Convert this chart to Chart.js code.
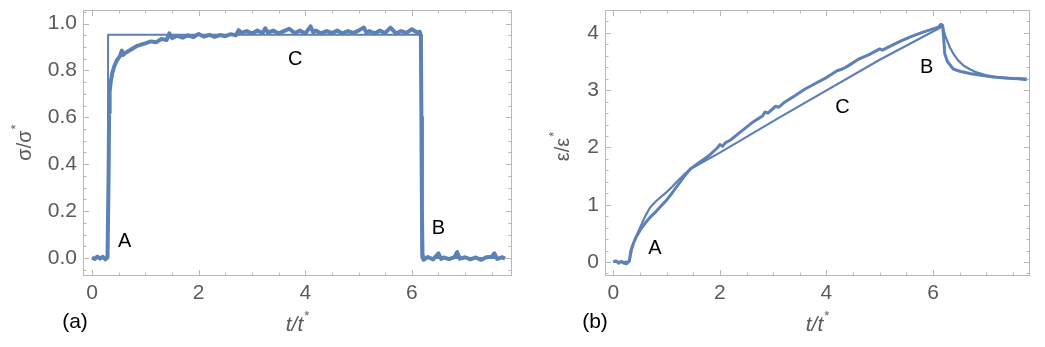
<!DOCTYPE html>
<html><head><meta charset="utf-8">
<script src="https://cdn.jsdelivr.net/npm/chart.js@4/dist/chart.umd.min.js"></script>
<style>
html,body{margin:0;padding:0;background:#fff;overflow:hidden}
#ca{position:absolute;left:0;top:0}
#cb{position:absolute;left:520px;top:0}
</style></head>
<body>
<canvas id="ca" width="520" height="347"></canvas>
<canvas id="cb" width="525" height="347"></canvas>
<script>
// ---- Panel (a): stress sigma/sigma* vs t/t* ----
const sigmaMeasT = [0,0.05,0.1,0.15,0.2,0.25,0.29,0.31,0.32,0.33,0.35,0.38,0.42,0.47,0.52,0.56,0.58,0.63,0.7,0.77,0.85,0.92,1.0,1.1,1.2,1.3,1.4,1.45,1.5,1.6,1.7,1.8,1.9,2.0,2.1,2.2,2.3,2.4,2.5,2.6,2.7,2.75,2.8,2.9,3.0,3.1,3.2,3.25,3.3,3.4,3.5,3.6,3.7,3.8,3.9,4.0,4.1,4.15,4.2,4.3,4.4,4.5,4.6,4.7,4.8,4.9,5.0,5.1,5.15,5.2,5.3,5.4,5.5,5.6,5.7,5.8,5.9,6.0,6.1,6.15,6.17,6.18,6.19,6.2,6.22,6.3,6.4,6.5,6.55,6.6,6.7,6.8,6.85,6.9,7.0,7.1,7.2,7.3,7.4,7.5,7.55,7.6,7.7,7.75];
const sigmaMeasY = [0.002,-0.004,0.006,-0.003,0.005,-0.006,0.003,0.35,0.62,0.71,0.75,0.79,0.82,0.845,0.86,0.885,0.866,0.876,0.885,0.895,0.905,0.91,0.916,0.924,0.92,0.934,0.93,0.958,0.938,0.948,0.94,0.95,0.942,0.956,0.944,0.952,0.943,0.951,0.946,0.955,0.95,0.972,0.96,0.968,0.958,0.97,0.96,0.98,0.962,0.97,0.958,0.968,0.978,0.96,0.97,0.958,0.988,0.962,0.97,0.958,0.968,0.96,0.97,0.958,0.968,0.96,0.97,0.983,0.96,0.968,0.958,0.97,0.96,0.983,0.958,0.968,0.96,0.976,0.962,0.965,0.95,0.6,0.2,0.02,-0.008,0.004,-0.006,0.02,-0.004,0.002,-0.005,0.004,0.025,-0.003,0.003,-0.006,0.002,-0.008,0.003,0.005,0.02,-0.004,0.003,-0.003];
const sigmaModelT = [0,0.3,0.3,6.18,6.18,7.75];
const sigmaModelY = [0,0,0.952,0.952,0,0];
const sigmaXTicks = [0,2,4,6];
const sigmaYTicks = [0.0,0.2,0.4,0.6,0.8,1.0];
const sigmaNotes = [{t:'A',x:0.61,y:0.07},{t:'B',x:6.5,y:0.127},{t:'C',x:3.81,y:0.848}];

// ---- Panel (b): strain epsilon/epsilon* vs t/t* ----
const epsMeasT = [0,0.05,0.1,0.15,0.2,0.25,0.3,0.33,0.37,0.42,0.47,0.52,0.6,0.69,0.8,0.9,1.0,1.1,1.2,1.31,1.44,1.6,1.8,1.95,2.0,2.05,2.1,2.2,2.4,2.6,2.8,2.85,2.9,3.0,3.05,3.1,3.2,3.4,3.6,3.8,4.0,4.2,4.3,4.4,4.6,4.7,4.8,5.0,5.05,5.2,5.4,5.6,5.8,6.0,6.1,6.15,6.18,6.2,6.22,6.27,6.38,6.5,6.69,6.9,7.13,7.4,7.6,7.76];
const epsMeasY = [0.0,0.02,-0.02,0.01,-0.02,-0.03,0.02,0.2,0.31,0.42,0.5,0.58,0.68,0.78,0.88,0.98,1.08,1.2,1.33,1.47,1.62,1.73,1.86,1.99,2.05,2.02,2.08,2.13,2.28,2.43,2.55,2.62,2.6,2.68,2.72,2.7,2.78,2.9,3.02,3.12,3.22,3.34,3.37,3.42,3.54,3.58,3.62,3.72,3.7,3.77,3.86,3.94,4.01,4.07,4.1,4.15,4.13,3.9,3.64,3.5,3.37,3.33,3.29,3.26,3.23,3.21,3.2,3.18];
const epsModelT = [0,0.3,0.35,0.4,0.5,0.6,0.69,0.8,0.9,1.0,1.1,1.2,1.32,1.44,2.0,3.13,5.0,6.15,6.18,6.2,6.23,6.27,6.32,6.38,6.47,6.57,6.7,6.82,7.0,7.2,7.5,7.76];
const epsModelY = [0,0,0.22,0.38,0.6,0.8,0.95,1.06,1.14,1.22,1.31,1.41,1.52,1.62,1.91,2.53,3.53,4.1,4.13,4.05,3.95,3.85,3.74,3.64,3.52,3.43,3.36,3.31,3.26,3.23,3.21,3.2];
const epsXTicks = [0,2,4,6];
const epsYTicks = [0,1,2,3,4];
const epsNotes = [{t:'A',x:0.78,y:0.24},{t:'B',x:5.88,y:3.40},{t:'C',x:4.30,y:2.69}];

const LINE = '#5E81B5', FRAME = '#B8B8B8', LABEL = '#5A5A5A';
const FONT = '"Liberation Sans", Arial, sans-serif';

function pts(t, y) { return t.map((v, i) => ({x: v, y: y[i]})); }

function drawSup(ctx, main, sup, cx, cy, italic, rot, size) {
  ctx.save();
  ctx.translate(cx, cy);
  if (rot) ctx.rotate(-Math.PI / 2);
  ctx.fillStyle = LABEL;
  ctx.textBaseline = 'middle';
  ctx.textAlign = 'left';
  const f1 = (italic ? 'italic ' : '') + size + 'px ' + FONT;
  const f2 = '13px ' + FONT;
  ctx.font = f1; const w1 = ctx.measureText(main).width;
  ctx.font = f2; const w2 = ctx.measureText(sup).width;
  const x0 = -(w1 + w2) / 2;
  ctx.font = f1; ctx.fillText(main, x0, 0);
  ctx.font = f2; ctx.fillText(sup, x0 + w1 + 1, -9);
  ctx.restore();
}

const framePlugin = {
  id: 'frame',
  afterDatasetsDraw(chart, args, o) {
    const ctx = chart.ctx, a = chart.chartArea;
    const xs = chart.scales.x, ys = chart.scales.y;
    ctx.save();
    ctx.strokeStyle = FRAME; ctx.lineWidth = 1;
    ctx.strokeRect(Math.round(a.left) + 0.5, Math.round(a.top) + 0.5,
                   Math.round(a.right - a.left) - 1, Math.round(a.bottom - a.top) - 1);
    ctx.beginPath();
    const xi0 = Math.ceil(xs.min / o.xStep - 1e-9), xi1 = Math.floor(xs.max / o.xStep + 1e-9);
    for (let i = xi0; i <= xi1; i++) {
      const v = i * o.xStep, r = v / o.xMajor;
      const len = Math.abs(r - Math.round(r)) < 1e-6 ? 6 : 3.5;
      const px = Math.round(xs.getPixelForValue(v)) + 0.5;
      ctx.moveTo(px, a.bottom); ctx.lineTo(px, a.bottom - len);
      ctx.moveTo(px, a.top); ctx.lineTo(px, a.top + len);
    }
    const yi0 = Math.ceil(ys.min / o.yStep - 1e-9), yi1 = Math.floor(ys.max / o.yStep + 1e-9);
    for (let i = yi0; i <= yi1; i++) {
      const v = i * o.yStep, r = v / o.yMajor;
      const len = Math.abs(r - Math.round(r)) < 1e-6 ? 6 : 3.5;
      const py = Math.round(ys.getPixelForValue(v)) + 0.5;
      ctx.moveTo(a.left, py); ctx.lineTo(a.left + len, py);
      ctx.moveTo(a.right, py); ctx.lineTo(a.right - len, py);
    }
    ctx.stroke();
    ctx.fillStyle = '#000';
    ctx.font = '20px ' + FONT;
    ctx.textAlign = 'center'; ctx.textBaseline = 'middle';
    o.notes.forEach(n => ctx.fillText(n.t, xs.getPixelForValue(n.x), ys.getPixelForValue(n.y)));
    ctx.font = '21px ' + FONT;
    ctx.fillText(o.tag, o.tagX, o.tagY);
    ctx.restore();
    drawSup(ctx, 't/t', '*', o.xtX, o.xtY, true, false, 21);
    drawSup(ctx, o.ytMain, '*', o.ytX, o.ytY, false, true, 20);
  }
};

function makeChart(id, cfg) {
  return new Chart(document.getElementById(id), {
    type: 'line',
    data: {
      datasets: [
        {data: pts(cfg.mT, cfg.mY), borderColor: LINE, borderWidth: cfg.mW, pointRadius: 0, tension: 0, borderJoinStyle: 'round'},
        {data: pts(cfg.dT, cfg.dY), borderColor: LINE, borderWidth: cfg.dW, pointRadius: 0, tension: 0, borderJoinStyle: 'round'}
      ]
    },
    options: {
      responsive: false, animation: false, devicePixelRatio: 1,
      layout: {padding: {top: 10, right: cfg.padR, left: 0, bottom: 0}},
      plugins: {legend: {display: false}, tooltip: {enabled: false}, frame: cfg.frame},
      scales: {
        x: {
          type: 'linear', min: cfg.xMin, max: cfg.xMax,
          afterBuildTicks: s => { s.ticks = cfg.xTicks.map(v => ({value: v})); },
          afterFit: s => { s.height = 71; s.paddingLeft = 0; s.paddingRight = 0; s.paddingTop = 0; s.paddingBottom = 0; },
          grid: {display: false, drawTicks: false}, border: {display: false},
          ticks: {font: {size: 21, family: FONT}, color: LABEL, padding: 5, maxRotation: 0,
                  callback: v => String(v)}
        },
        y: {
          type: 'linear', min: cfg.yMin, max: cfg.yMax,
          afterBuildTicks: s => { s.ticks = cfg.yTicks.map(v => ({value: v})); },
          afterFit: s => { s.width = cfg.yW; s.paddingLeft = 0; s.paddingRight = 0; s.paddingTop = 0; s.paddingBottom = 0; },
          grid: {display: false, drawTicks: false}, border: {display: false},
          ticks: {font: {size: 21, family: FONT}, color: LABEL, padding: 6,
                  callback: v => cfg.yDec ? Number(v).toFixed(1) : String(v)}
        }
      }
    },
    plugins: [framePlugin]
  });
}

makeChart('ca', {
  mT: sigmaMeasT, mY: sigmaMeasY, mW: 4,
  dT: sigmaModelT, dY: sigmaModelY, dW: 2, smooth: false,
  xMin: -0.17, xMax: 7.88, yMin: -0.077, yMax: 1.058,
  xTicks: sigmaXTicks, yTicks: sigmaYTicks, yDec: true, yW: 83, padR: 8,
  frame: {xStep: 0.5, xMajor: 2, yStep: 0.05, yMajor: 0.2, notes: sigmaNotes,
          tag: '(a)', tagX: 75, tagY: 322, xtX: 297, xtY: 325, ytMain: 'σ/σ', ytX: 25, ytY: 143}
});

makeChart('cb', {
  mT: epsMeasT, mY: epsMeasY, mW: 3,
  dT: epsModelT, dY: epsModelY, dW: 2.2, smooth: false,
  xMin: -0.156, xMax: 7.82, yMin: -0.245, yMax: 4.40,
  xTicks: epsXTicks, yTicks: epsYTicks, yDec: false, yW: 85, padR: 15,
  frame: {xStep: 0.5, xMajor: 2, yStep: 0.2, yMajor: 1, notes: epsNotes,
          tag: '(b)', tagX: 75, tagY: 322, xtX: 297, xtY: 325, ytMain: 'ε/ε', ytX: 43, ytY: 147}
});
</script>
</body></html>
